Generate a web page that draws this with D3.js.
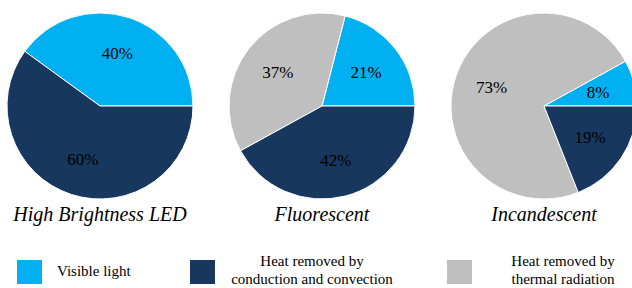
<!DOCTYPE html>
<html lang="en">
<head>
    <meta charset="utf-8">
    <title>Lamp energy split</title>
    <style type="text/css">
        body { margin: 0; background: #fff; }
    </style>
</head>
<body>
   <svg class="pie_chart" width="632" height="288"></svg>

   <script src="https://d3js.org/d3.v7.min.js"></script>
   <script>
        // data
        var lamps = ['High Brightness LED', 'Fluorescent', 'Incandescent'];
        var categories = ['Visible light', 'Heat removed by conduction and convection', 'Heat removed by thermal radiation'];
        var visible = [40, 21, 8];
        var conduction = [60, 42, 19];
        var radiation = [0, 37, 73];
        var legendLines = [['Visible light'], ['Heat removed by', 'conduction and convection'], ['Heat removed by', 'thermal radiation']];
        var colors = ['#00B0F0', '#17375E', '#BFBFBF'];

        var serif = "'Liberation Serif', 'Times New Roman', Times, 'DejaVu Serif', serif";

        var svg = d3.select('.pie_chart')
                    .style('font-family', serif),
            radius = 93,
            center_y = 106;

        // pie centres
        var x = d3.scalePoint().domain(lamps).range([100, 544]);

        var color = d3.scaleOrdinal().domain(categories).range(colors);

        // slices go counter-clockwise from 3 o'clock: visible, radiation, conduction
        var pie = d3.pie()
                    .sort(null)
                    .startAngle(Math.PI / 2)
                    .endAngle(Math.PI / 2 - 2 * Math.PI)
                    .value(function(d) { return d.value; });

        var arc = d3.arc().innerRadius(0).outerRadius(radius);
        var labelArc = d3.arc().innerRadius(radius * 0.6).outerRadius(radius * 0.6);

        lamps.forEach(function(lamp, i) {
            var data = [
                { cat: categories[0], value: visible[i] },
                { cat: categories[2], value: radiation[i] },
                { cat: categories[1], value: conduction[i] }
            ].filter(function(d) { return d.value > 0; });

            var g = svg.append('g')
                       .attr('transform', 'translate(' + x(lamp) + ',' + center_y + ')');

            var slices = g.selectAll('.slice')
                          .data(pie(data))
                          .enter().append('g')
                          .attr('class', 'slice');

            slices.append('path')
                  .attr('d', arc)
                  .attr('fill', function(d) { return color(d.data.cat); })
                  .attr('stroke', '#fff')
                  .attr('stroke-width', 1);

            slices.append('text')
                  .attr('transform', function(d) { return 'translate(' + labelArc.centroid(d) + ')'; })
                  .attr('text-anchor', 'middle')
                  .attr('dy', '0.35em')
                  .style('font-family', serif)
                  .style('font-size', '17px')
                  .text(function(d) { return d.data.value + '%'; });

            svg.append('text')
               .attr('x', x(lamp))
               .attr('y', 221)
               .attr('text-anchor', 'middle')
               .style('font-family', serif)
               .style('font-style', 'italic')
               .style('font-size', '20px')
               .text(lamp);
        });

        // legend
        var legend_x = [17, 190, 447],
            legend_text_x = [57, 312, 563];

        var legend = svg.append('g').attr('class', 'legend');

        categories.forEach(function(cat, i) {
            legend.append('rect')
                  .attr('x', legend_x[i])
                  .attr('y', 260)
                  .attr('width', 25)
                  .attr('height', 24)
                  .attr('fill', color(cat));

            var lines = legendLines[i];
            var t = legend.append('text')
                          .attr('text-anchor', lines.length > 1 ? 'middle' : 'start')
                          .style('font-family', serif)
                          .style('font-size', '15px');
            lines.forEach(function(line, j) {
                t.append('tspan')
                 .attr('x', legend_text_x[i])
                 .attr('y', lines.length > 1 ? 266 + j * 18 : 276)
                 .text(line);
            });
        });
   </script>
</body>
</html>
